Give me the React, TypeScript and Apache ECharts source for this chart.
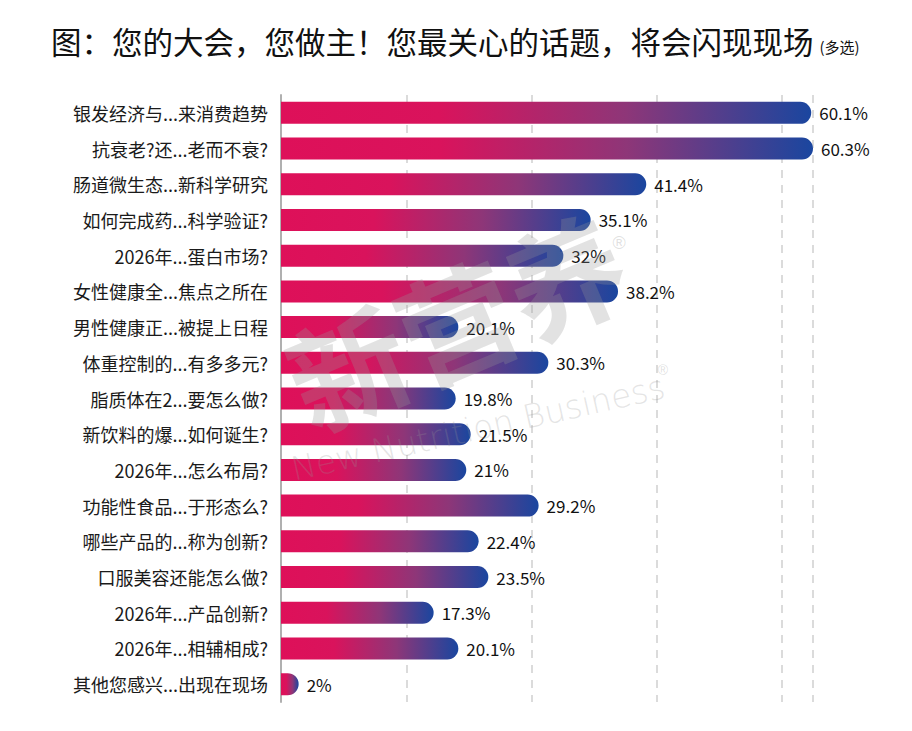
import React, { useEffect, useRef } from "react";
import * as echarts from "echarts";

const categories = [
  "银发经济与...来消费趋势",
  "抗衰老?还...老而不衰?",
  "肠道微生态...新科学研究",
  "如何完成药...科学验证?",
  "2026年...蛋白市场?",
  "女性健康全...焦点之所在",
  "男性健康正...被提上日程",
  "体重控制的...有多多元?",
  "脂质体在2...要怎么做?",
  "新饮料的爆...如何诞生?",
  "2026年...怎么布局?",
  "功能性食品...于形态么?",
  "哪些产品的...称为创新?",
  "口服美容还能怎么做?",
  "2026年...产品创新?",
  "2026年...相辅相成?",
  "其他您感兴...出现在现场",
];

const values = [60.1, 60.3, 41.4, 35.1, 32, 38.2, 20.1, 30.3, 19.8, 21.5, 21, 29.2, 22.4, 23.5, 17.3, 20.1, 2];

const titleMain = "图：您的大会，您做主！您最关心的话题，将会闪现现场";
const titleSub = "(多选)";

export default function App() {
  const ref = useRef<HTMLDivElement>(null);
  useEffect(() => {
    if (!ref.current) return;
    const chart = echarts.init(ref.current, null, { renderer: "svg" });
    const cjk = '"Noto Sans CJK SC", "Noto Sans", sans-serif';
    chart.setOption({
      animation: false,
      backgroundColor: "#ffffff",
      title: {
        text: `{a|${titleMain}}{b|${titleSub}}`,
        left: 46,
        top: 17,
        textStyle: {
          rich: {
            a: { fontSize: 30.5, fontFamily: cjk, color: "#111", fontWeight: "normal", lineHeight: 38 },
            b: { fontSize: 15, fontFamily: cjk, color: "#111", fontWeight: "normal", padding: [10, 0, 0, 6], lineHeight: 38 },
          },
        },
      },
      grid: { left: 281, right: 99, top: 95, bottom: 29, containLabel: false },
      xAxis: {
        type: "value",
        min: 0,
        max: 60.3,
        interval: 14.2,
        axisLabel: { show: false },
        axisLine: { show: false },
        axisTick: { show: false },
        splitLine: { show: true, lineStyle: { type: [8, 7], color: "#d0d0d0", width: 1.5 } },
      },
      yAxis: {
        type: "category",
        data: categories,
        inverse: true,
        axisTick: { show: false },
        axisLine: { show: true, lineStyle: { color: "#b0b0b0", width: 2 } },
        axisLabel: { margin: 13, fontSize: 18, color: "#1a1a1a", fontFamily: cjk },
      },
      series: [
        {
          type: "bar",
          data: values,
          barWidth: 22,
          itemStyle: {
            borderRadius: [0, 11, 11, 0],
            color: new echarts.graphic.LinearGradient(0, 0, 1, 0, [
              { offset: 0, color: "#DE1059" },
              { offset: 0.3, color: "#D9135C" },
              { offset: 0.65, color: "#8E3678" },
              { offset: 1, color: "#1A469F" },
            ]),
          },
          label: {
            show: true,
            position: "right",
            distance: 8,
            fontSize: 17,
            color: "#111",
            fontFamily: cjk,
            formatter: (p: any) => `${p.value}%`,
          },
        },
      ],
      graphic: [
        {
          type: "text",
          x: 455,
          y: 318,
          rotation: 0.4,
          z: 100,
          style: {
            text: "新营养",
            fontSize: 118,
            fontWeight: "bold",
            fontFamily: cjk,
            fill: "rgba(150,150,150,0.28)",
            align: "center",
            verticalAlign: "middle",
          },
        },
        {
          type: "text",
          x: 478,
          y: 428,
          rotation: 0.22,
          z: 100,
          style: {
            text: "New Nutrition Business",
            fontSize: 33,
            fontFamily: '"DejaVu Sans", sans-serif',
            fontWeight: 300,
            fill: "rgba(150,150,150,0.25)",
            align: "center",
            verticalAlign: "middle",
          },
        },
        {
          type: "text",
          x: 619,
          y: 243,
          z: 100,
          style: { text: "®", fontSize: 18, fill: "rgba(150,150,150,0.3)", align: "center", verticalAlign: "middle" },
        },
        {
          type: "text",
          x: 663,
          y: 370,
          z: 100,
          style: { text: "®", fontSize: 14, fill: "rgba(150,150,150,0.3)", align: "center", verticalAlign: "middle" },
        },
      ],
    });
    return () => chart.dispose();
  }, []);
  return <div ref={ref} style={{ position: "fixed", left: 0, top: 0, width: 912, height: 731 }} />;
}
